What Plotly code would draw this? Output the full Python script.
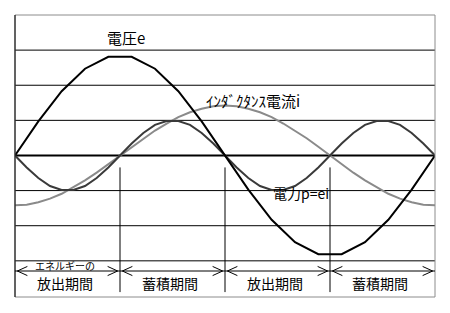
import plotly.graph_objects as go

# phase angle (degrees)
theta_e = [0, 20, 40, 60, 80, 100, 120, 140, 160, 180, 200, 220, 240, 260, 280, 300, 320, 340, 360]
voltage_e = [0, 0.97, 1.83, 2.47, 2.81, 2.81, 2.47, 1.83, 0.97, 0, -0.97, -1.83, -2.47, -2.81, -2.81, -2.47, -1.83, -0.97, 0]

theta_i = [0, 10, 20, 30, 40, 50, 60, 70, 80, 90, 100, 110, 120, 130, 140, 150, 160, 170, 180,
           190, 200, 210, 220, 230, 240, 250, 260, 270, 280, 290, 300, 310, 320, 330, 340, 350, 360]
current_i = [-1.42, -1.40, -1.33, -1.23, -1.09, -0.91, -0.71, -0.49, -0.25, 0, 0.25, 0.49, 0.71, 0.91, 1.09, 1.23, 1.33, 1.40, 1.42,
             1.40, 1.33, 1.23, 1.09, 0.91, 0.71, 0.49, 0.25, 0, -0.25, -0.49, -0.71, -0.91, -1.09, -1.23, -1.33, -1.40, -1.42]
power_p = [0, -0.34, -0.64, -0.87, -0.98, -0.98, -0.87, -0.64, -0.34, 0, 0.34, 0.64, 0.87, 0.98, 0.98, 0.87, 0.64, 0.34, 0,
           -0.34, -0.64, -0.87, -0.98, -0.98, -0.87, -0.64, -0.34, 0, 0.34, 0.64, 0.87, 0.98, 0.98, 0.87, 0.64, 0.34, 0]

grid_levels = [-3, -2, -1, 1, 2, 3]
period_bounds = [0, 90, 180, 270, 360]
period_labels = ["放出期間", "蓄積期間", "放出期間", "蓄積期間"]
energy_label = "エネルギーの"
label_e = "電圧e"
label_i = "ｲﾝﾀﾞｸﾀﾝｽ電流i"
label_p = "電力p=ei"

FONT = "Noto Sans CJK JP"
Y_MIN, Y_MAX = -4.03, 4.0
ARROW_Y = -3.29

fig = go.Figure()
fig.add_trace(go.Scatter(x=theta_i, y=current_i, mode="lines",
                         line=dict(color="#8a8a8a", width=2), hoverinfo="skip"))
fig.add_trace(go.Scatter(x=theta_i, y=power_p, mode="lines",
                         line=dict(color="#3a3a3a", width=2), hoverinfo="skip"))
fig.add_trace(go.Scatter(x=theta_e, y=voltage_e, mode="lines",
                         line=dict(color="black", width=2), hoverinfo="skip"))

shapes = []
for g in grid_levels:
    shapes.append(dict(type="line", xref="x", yref="y", x0=0, x1=360, y0=g, y1=g,
                       line=dict(color="black", width=1), layer="below"))
shapes.append(dict(type="line", xref="x", yref="y", x0=0, x1=360, y0=0, y1=0,
                   line=dict(color="black", width=2), layer="below"))
# frame
shapes.append(dict(type="rect", xref="paper", yref="paper", x0=0, x1=1, y0=0, y1=1,
                   line=dict(color="#8c8c8c", width=1)))
shapes.append(dict(type="line", xref="paper", yref="paper", x0=0, x1=0, y0=0, y1=1,
                   line=dict(color="black", width=1)))
# period separators
for b in period_bounds[1:-1]:
    shapes.append(dict(type="line", xref="x", yref="y", x0=b, x1=b, y0=-0.34, y1=-3.89,
                       line=dict(color="black", width=1)))
# arrow line
shapes.append(dict(type="line", xref="x", yref="y", x0=0, x1=360, y0=ARROW_Y, y1=ARROW_Y,
                   line=dict(color="black", width=1)))
dx, dy, gap = 8.6, 0.13, 2.0
for a, b in zip(period_bounds[:-1], period_bounds[1:]):
    l = a + gap
    r = b - gap
    shapes.append(dict(type="path", xref="x", yref="y",
                       path=f"M {l+dx},{ARROW_Y+dy} L {l},{ARROW_Y} L {l+dx},{ARROW_Y-dy}",
                       line=dict(color="black", width=1)))
    shapes.append(dict(type="path", xref="x", yref="y",
                       path=f"M {r-dx},{ARROW_Y+dy} L {r},{ARROW_Y} L {r-dx},{ARROW_Y-dy}",
                       line=dict(color="black", width=1)))

annotations = [
    dict(x=95, y=3.37, text=label_e, font=dict(size=15)),
    dict(x=204, y=1.57, text=label_i, font=dict(size=15)),
    dict(x=245, y=-1.06, text=label_p, font=dict(size=14)),
    dict(x=42.9, y=-3.12, text=energy_label, font=dict(size=10)),
]
for a, b, t in zip(period_bounds[:-1], period_bounds[1:], period_labels):
    annotations.append(dict(x=(a + b) / 2 - 2, y=-3.63, text=t, font=dict(size=14)))
for an in annotations:
    an.update(xref="x", yref="y", showarrow=False, xanchor="center", yanchor="middle")
    an["font"].update(family=FONT, color="black")

fig.update_layout(
    width=450, height=313,
    margin=dict(l=15, r=15, t=15, b=16),
    paper_bgcolor="white", plot_bgcolor="white",
    showlegend=False,
    xaxis=dict(range=[0, 360], visible=False, fixedrange=True),
    yaxis=dict(range=[Y_MIN, Y_MAX], visible=False, fixedrange=True),
    shapes=shapes,
    annotations=annotations,
)

fig.write_html("out.html", config={"displayModeBar": False})
